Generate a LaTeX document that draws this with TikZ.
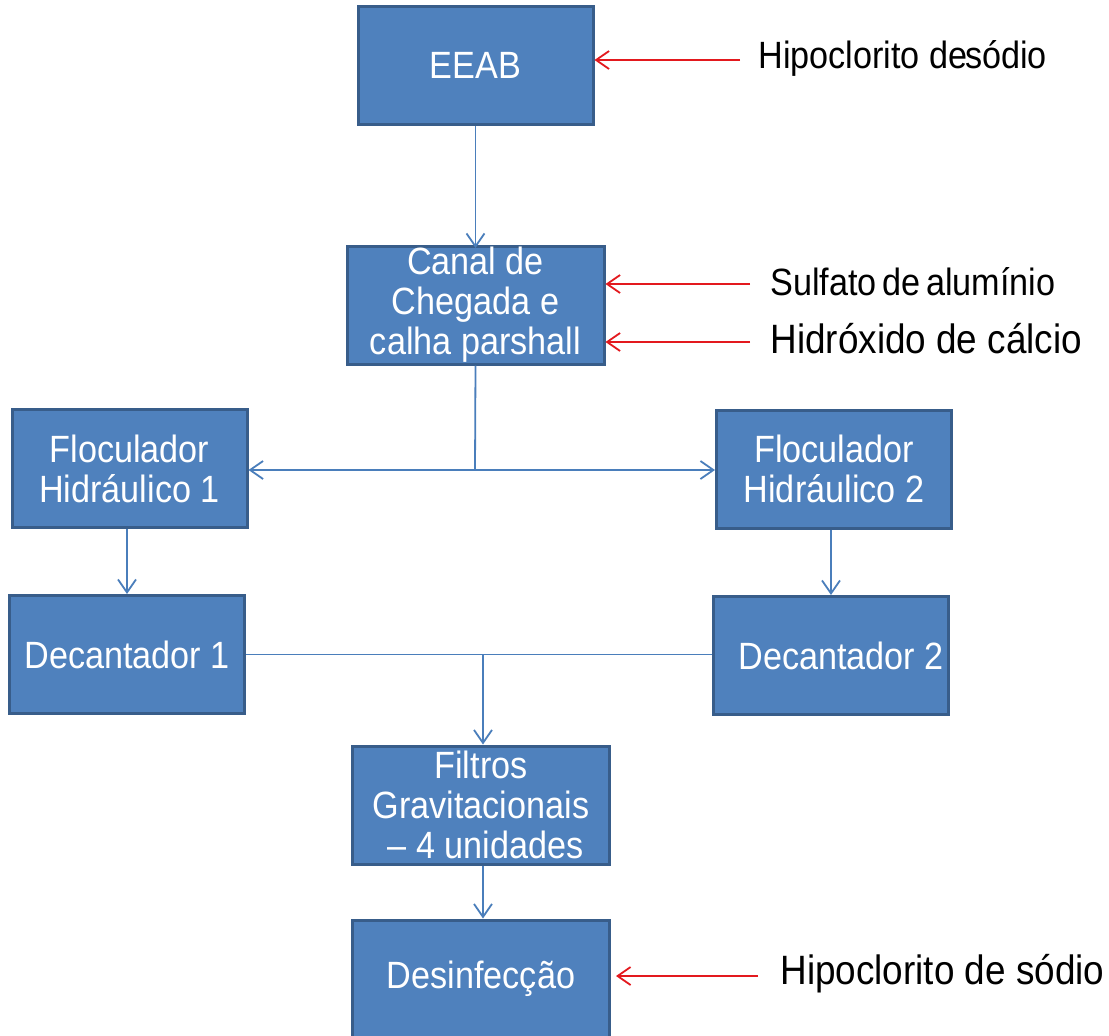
\documentclass[tikz,border=0pt]{standalone}
\usepackage{fontspec}
\setmainfont{Liberation Sans}[FakeStretch=0.9]
\usetikzlibrary{arrows.meta}
\definecolor{boxfill}{HTML}{4F81BD}
\definecolor{boxline}{HTML}{385D8A}
\definecolor{flow}{HTML}{4A7EBB}
\definecolor{dose}{HTML}{E3191E}
\begin{document}
\begin{tikzpicture}[x=0.5pt,y=-0.5pt,
    unit/.style={draw=boxline,line width=1.5pt,fill=boxfill,text=white,
      font=\fontsize{19}{20}\selectfont,align=center,inner sep=0pt,
      minimum width=117.5pt,minimum height=59pt},
    wide/.style={minimum width=128.5pt},
    chem/.style={anchor=west,inner sep=0pt,font=\fontsize{19}{20}\selectfont},
    bigchem/.style={chem,font=\fontsize{20.5}{22}\selectfont},
    flowarrow/.style={draw=flow,line width=0.9pt,-{Straight Barb[length=6.5pt,width=9pt]}},
    dosearrow/.style={draw=dose,line width=0.9pt,-{Straight Barb[length=6.5pt,width=9pt]}}]
  \useasboundingbox (0,0) rectangle (1109,1035);

  \node[unit] (eeab) at (475.5,65.5) {EEAB};
  \node[unit,wide] (canal) at (475.5,305) {Canal de\\Chegada e\\calha parshall};
  \node[unit] (floc1) at (129.5,468.5) {Floculador\\Hidráulico 1};
  \node[unit] (floc2) at (834,469) {Floculador\\Hidráulico 2};
  \node[unit] (dec1) at (127,654.5) {Decantador 1};
  \node[unit] (dec2) at (831,655.5) {\hspace*{10pt}Decantador 2};
  \node[unit,wide] (filtros) at (481,805) {Filtros\\Gravitacionais\\\ – 4 unidades};
  \node[unit,wide] (desinf) at (481,979) {Desinfecção};

  \node[chem] (hipo1) at (758,58) {Hipoclorito de\hspace{-0.06em}sódio};
  \node[chem] (sulf) at (770,282) {Sulfato\hspace{-0.1em} de\hspace{-0.1em} alumínio};
  \node[bigchem] (hidr) at (770,339) {Hidróxido de cálcio};
  \node[bigchem] (hipo2) at (780,974) {Hipoclorito de sódio};

  \coordinate (split) at (475,470);
  \coordinate (merge) at (483,654);

  \draw[flowarrow] (eeab) -- (eeab |- 0,248);
  \draw[draw=flow,line width=0.9pt] (canal.south) -- (split);
  \draw[flowarrow] (split) -- (split -| floc1.east);
  \draw[flowarrow] (split) -- (split -| floc2.west);
  \draw[flowarrow] (floc1.south -| dec1.north) -- (dec1.north);
  \draw[flowarrow] (floc2.south -| dec2.north) -- (dec2.north);
  \draw[draw=flow,line width=0.9pt] (dec1.east) -- (dec1.east -| dec2.west);
  \draw[flowarrow] (merge) -- (merge |- filtros.north);
  \draw[flowarrow] (merge |- filtros.south) -- (merge |- desinf.north);

  \draw[dosearrow] ([xshift=-9pt]hipo1.west |- 0,60) -- (eeab.east |- 0,60);
  \draw[dosearrow] ([xshift=-10pt]sulf.west |- 0,284) -- (canal.east |- 0,284);
  \draw[dosearrow] ([xshift=-10pt]hidr.west |- 0,342) -- (canal.east |- 0,342);
  \draw[dosearrow] ([xshift=-11pt]hipo2.west |- 0,976) -- ([xshift=2.5pt]desinf.east |- 0,976);
\end{tikzpicture}
\end{document}
